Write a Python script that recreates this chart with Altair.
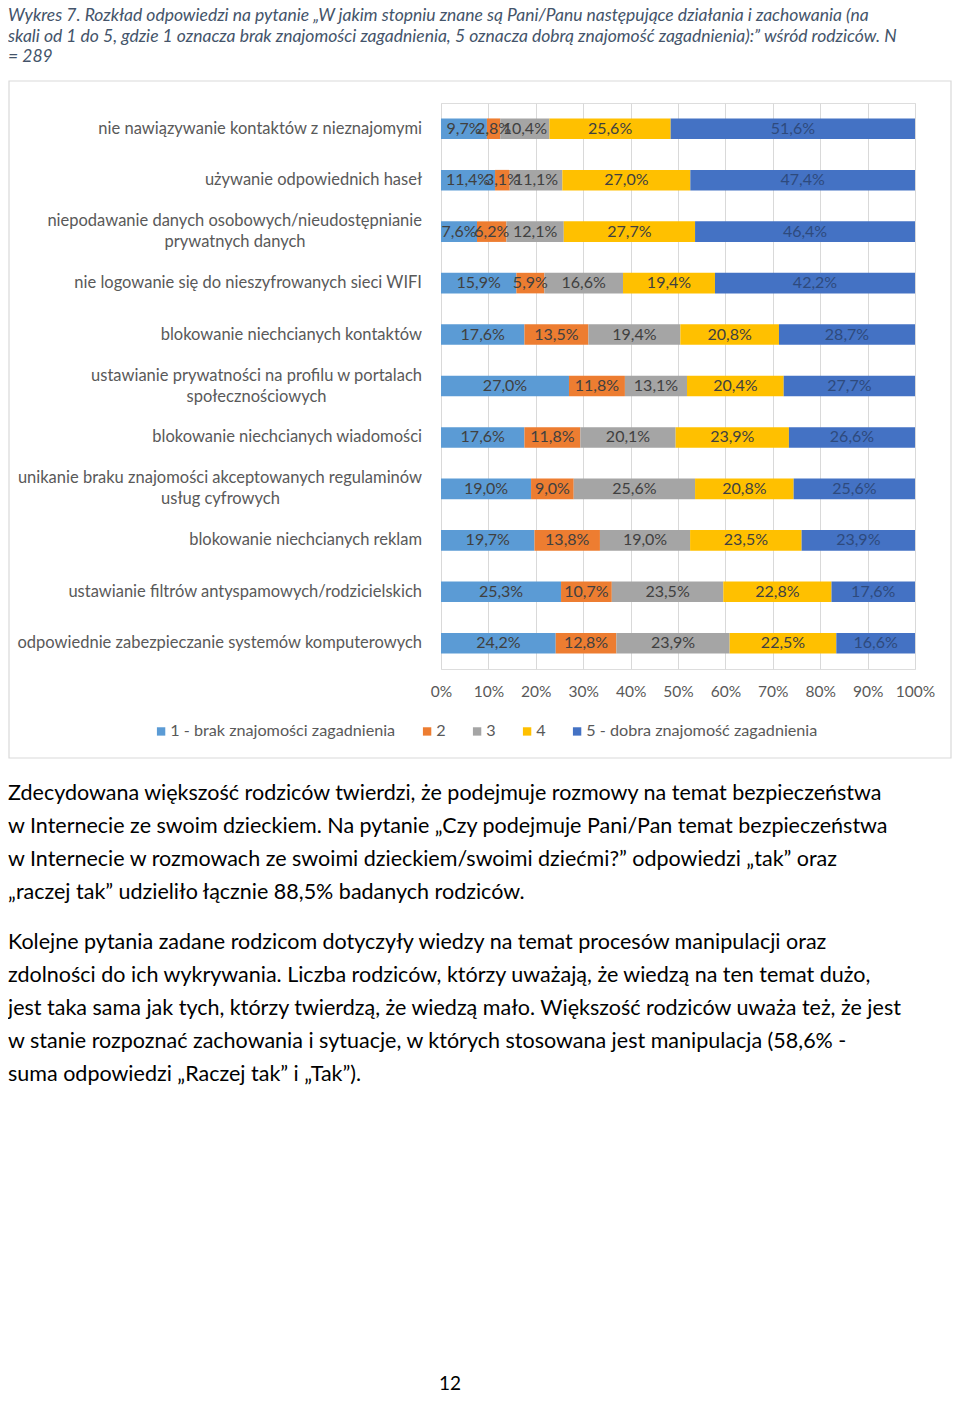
import altair as alt
import pandas as pd

# ---------------- data ----------------
CATEGORIES = [
    "nie nawiązywanie kontaktów z nieznajomymi",
    "używanie odpowiednich haseł",
    "niepodawanie danych osobowych/nieudostępnianie\nprywatnych danych",
    "nie logowanie się do nieszyfrowanych sieci WIFI",
    "blokowanie niechcianych kontaktów",
    "ustawianie prywatności na profilu w portalach\nspołecznościowych",
    "blokowanie niechcianych wiadomości",
    "unikanie braku znajomości akceptowanych regulaminów\nusług cyfrowych",
    "blokowanie niechcianych reklam",
    "ustawianie filtrów antyspamowych/rodzicielskich",
    "odpowiednie zabezpieczanie systemów komputerowych",
]
SERIES = ["1 - brak znajomości zagadnienia", "2", "3", "4", "5 - dobra znajomość zagadnienia"]
COLORS = ["#5B9BD5", "#ED7D31", "#A5A5A5", "#FFC000", "#4472C4"]
LABEL_COLORS = ["#404040", "#404040", "#404040", "#404040", "#2E4A7D"]

S1 = [9.7, 11.4, 7.6, 15.9, 17.6, 27.0, 17.6, 19.0, 19.7, 25.3, 24.2]
S2 = [2.8, 3.1, 6.2, 5.9, 13.5, 11.8, 11.8, 9.0, 13.8, 10.7, 12.8]
S3 = [10.4, 11.1, 12.1, 16.6, 19.4, 13.1, 20.1, 25.6, 19.0, 23.5, 23.9]
S4 = [25.6, 27.0, 27.7, 19.4, 20.8, 20.4, 23.9, 20.8, 23.5, 22.8, 22.5]
S5 = [51.6, 47.4, 46.4, 42.2, 28.7, 27.7, 26.6, 25.6, 23.9, 17.6, 16.6]

X_TICKS = [0, 0.1, 0.2, 0.3, 0.4, 0.5, 0.6, 0.7, 0.8, 0.9, 1.0]

TITLE_LINES = [
    "Wykres 7. Rozkład odpowiedzi na pytanie „W jakim stopniu znane są Pani/Panu następujące działania i  zachowania (na",
    "skali od 1 do 5, gdzie 1 oznacza brak znajomości zagadnienia, 5 oznacza dobrą znajomość zagadnienia):” wśród rodziców. N",
    "= 289",
]
PARA1 = [
    "Zdecydowana większość rodziców twierdzi, że podejmuje rozmowy na temat bezpieczeństwa",
    "w Internecie ze swoim dzieckiem. Na pytanie „Czy podejmuje Pani/Pan temat bezpieczeństwa",
    "w Internecie w rozmowach ze swoimi dzieckiem/swoimi dziećmi?” odpowiedzi „tak” oraz",
    "„raczej tak” udzieliło łącznie 88,5% badanych rodziców.",
]
PARA2 = [
    "Kolejne pytania zadane rodzicom dotyczyły wiedzy na temat procesów manipulacji oraz",
    "zdolności do ich wykrywania. Liczba rodziców, którzy uważają, że wiedzą na ten temat dużo,",
    "jest taka sama jak tych, którzy twierdzą, że wiedzą mało. Większość rodziców uważa też, że jest",
    "w stanie rozpoznać zachowania i sytuacje, w których stosowana jest manipulacja (58,6% -",
    "suma odpowiedzi „Raczej tak” i „Tak”).",
]
PAGE_NUMBER = "12"

# ---------------- frames ----------------
rows = []
for si, (name, vals) in enumerate(zip(SERIES, [S1, S2, S3, S4, S5])):
    for cat, v in zip(CATEGORIES, vals):
        rows.append({"cat": cat, "series": name, "order": si, "value": v,
                     "lcolor": LABEL_COLORS[si]})
df = pd.DataFrame(rows)

lab_rows = []
for cat in CATEGORIES:
    parts = cat.split("\n")
    lab_rows.append({"cat": cat, "line1": parts[0],
                     "line2": parts[1] if len(parts) > 1 else "",
                     "n": len(parts)})
labdf = pd.DataFrame(lab_rows)

FONT = "Lato"
GREY = "#595959"
LAB_FS = 16.5

yscale = alt.Scale(domain=CATEGORIES, paddingInner=0.6, paddingOuter=0.3)
xscale = alt.Scale(domain=[0, 1])

base = alt.Chart(df).transform_stack(
    stack="value", groupby=["cat"], as_=["x0", "x1"], offset="normalize",
    sort=[alt.SortField("order", order="ascending")],
).transform_calculate(
    mid="(datum.x0 + datum.x1) / 2",
    lbl="replace(format(datum.value, '.1f'), '.', ',') + '%'",
)

bars = base.mark_bar().encode(
    y=alt.Y("cat:N", scale=yscale, axis=None, sort=CATEGORIES),
    x=alt.X("x0:Q", scale=xscale,
            axis=alt.Axis(values=X_TICKS, format=".0%", grid=True, gridColor="#D9D9D9",
                          domain=False, ticks=False, tickSize=0, labelPadding=15,
                          labelOverlap=False, labelFlush=False, labelFontSize=15.5,
                          labelColor=GREY, labelFont=FONT, title=None)),
    x2="x1:Q",
    color=alt.Color("series:N", scale=alt.Scale(domain=SERIES, range=COLORS),
                    legend=alt.Legend(orient="none", legendX=-288, legendY=620,
                                      direction="horizontal", title=None,
                                      symbolType="square", symbolSize=70,
                                      symbolStrokeWidth=0, labelFontSize=16.2,
                                      labelColor=GREY, labelFont=FONT, labelLimit=0,
                                      columnPadding=23, labelOffset=1, padding=0)),
    order=alt.Order("order:Q"),
)

bar_text = base.mark_text(fontSize=16, font=FONT, baseline="middle", align="center").encode(
    y=alt.Y("cat:N", scale=yscale, sort=CATEGORIES),
    x=alt.X("mid:Q", scale=xscale),
    text="lbl:N",
    color=alt.Color("lcolor:N", scale=None),
)

lab_base = alt.Chart(labdf)
lab_single = lab_base.transform_filter("datum.n == 1").mark_text(
    align="right", baseline="middle", fontSize=LAB_FS, font=FONT, color=GREY
).encode(y=alt.Y("cat:N", scale=yscale, sort=CATEGORIES), x=alt.value(-19), text="line1:N")
lab_first = lab_base.transform_filter("datum.n == 2").mark_text(
    align="right", baseline="middle", fontSize=LAB_FS, font=FONT, color=GREY, dy=-10.5
).encode(y=alt.Y("cat:N", scale=yscale, sort=CATEGORIES), x=alt.value(-19), text="line1:N")
# second line centred under the first: approximate first-line width from its glyphs
lab_second = lab_base.transform_filter("datum.n == 2").transform_calculate(
    narrow="length(replace(datum.line1, regexp('[^iljtfrł /.,]', 'g'), ''))",
).transform_calculate(
    cx="-19 - ((length(datum.line1) - datum.narrow) * 8.87 + datum.narrow * 5.08) / 2"
).mark_text(
    align="center", baseline="middle", fontSize=LAB_FS, font=FONT, color=GREY, dy=10.5
).encode(y=alt.Y("cat:N", scale=yscale, sort=CATEGORIES),
         x=alt.X("cx:Q", scale=None), text="line2:N")

one = alt.Data(values=[{"k": 1}])
frame = alt.Chart(one).mark_rect(filled=False, stroke="#D9D9D9", strokeWidth=1.2).encode(
    x=alt.value(-432), x2=alt.value(510), y=alt.value(-22), y2=alt.value(655)
)
title = alt.Chart(one).mark_text(
    text=TITLE_LINES, align="left", baseline="top", font=FONT, fontStyle="italic",
    fontSize=17.5, lineHeight=20.5, color="#44546A"
).encode(x=alt.value(-433), y=alt.value(-96))
para1 = alt.Chart(one).mark_text(
    text=PARA1, align="left", baseline="top", font=FONT, fontSize=21.5, lineHeight=33,
    color="#000000"
).encode(x=alt.value(-433), y=alt.value(680))
para2 = alt.Chart(one).mark_text(
    text=PARA2, align="left", baseline="top", font=FONT, fontSize=21.5, lineHeight=33,
    color="#000000"
).encode(x=alt.value(-433), y=alt.value(829))
page = alt.Chart(one).mark_text(
    text=PAGE_NUMBER, align="center", baseline="top", font=FONT, fontSize=19, color="#000000"
).encode(x=alt.value(9), y=alt.value(1272))

chart = alt.layer(
    frame, bars, bar_text, lab_single, lab_first, lab_second, title, para1, para2, page
).properties(
    width=474, height=566,
    autosize=alt.AutoSizeParams(type="none"),
    padding={"left": 433, "top": 95, "right": 37, "bottom": 727},
).configure_view(stroke=None).configure(background="#FFFFFF")

chart.save("out.html", embed_options={"renderer": "svg", "actions": False})
